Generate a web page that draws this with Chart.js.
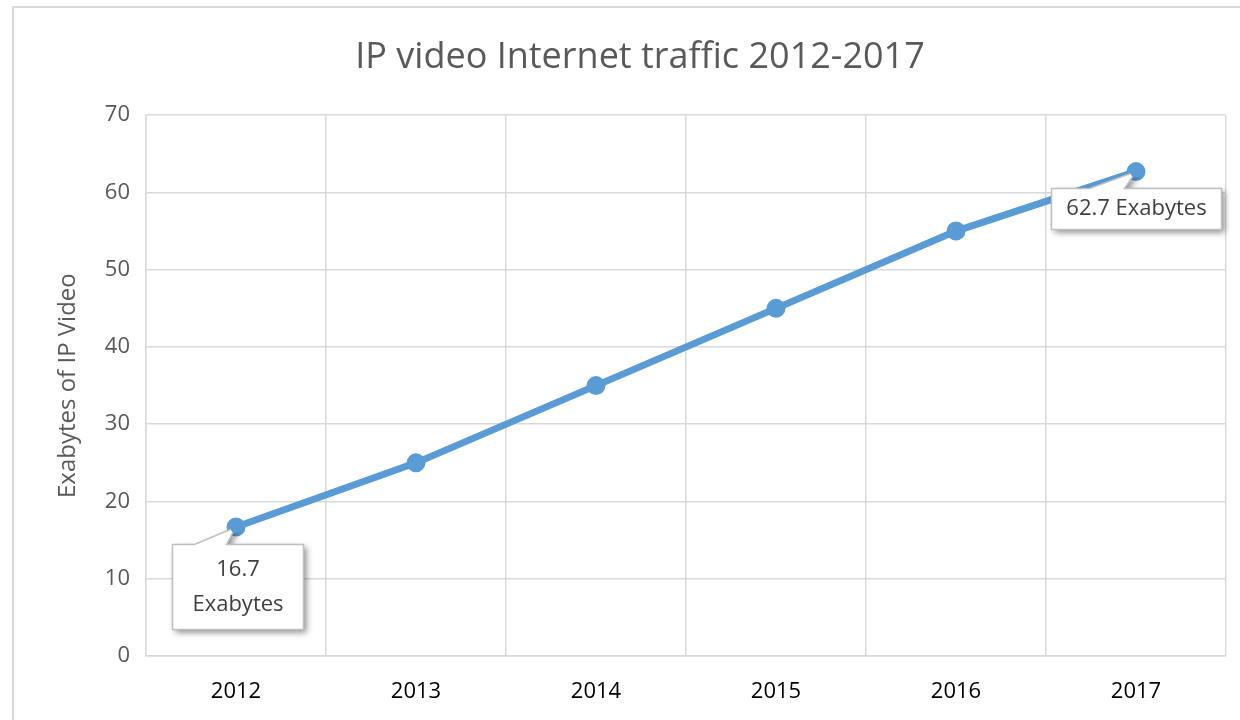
<!DOCTYPE html>
<html>
<head>
<meta charset="utf-8">
<script src="https://cdn.jsdelivr.net/npm/chart.js@4"></script>
<style>
  body { margin: 0; background: #fff; }
  #wrap { width: 1240px; height: 720px; }
</style>
</head>
<body>
<div id="wrap"><canvas id="myChart" width="1240" height="720"></canvas></div>
<script>
var years = ["2012", "2013", "2014", "2015", "2016", "2017"];
var exabytes = [16.7, 25, 35, 45, 55, 62.7];
var yTicks = [0, 10, 20, 30, 40, 50, 60, 70];
var callouts = [
  { index: 0, lines: ["16.7", "Exabytes"] },
  { index: 5, lines: ["62.7 Exabytes"] }
];

// box placement relative to the point; p1/p2 = pointer base, from box left
var boxGeom = {
  0: { dx: -64, dy: 17, w: 131, h: 85, p1: 22, p2: 54 },
  5: { dx: -85, dy: 16, w: 170, h: 41, p1: 38, p2: 73 }
};

var frame = {
  id: 'frame',
  beforeDraw: function(chart) {
    var ctx = chart.ctx;
    ctx.save();
    ctx.fillStyle = '#fff';
    ctx.fillRect(0, 0, chart.width, chart.height);
    ctx.strokeStyle = '#d9d9d9';
    ctx.lineWidth = 2;
    ctx.strokeRect(13, 7, 1240, 740);
    ctx.restore();
  }
};

var labels = {
  id: 'labels',
  afterDatasetsDraw: function(chart) {
    var ctx = chart.ctx;
    var meta = chart.getDatasetMeta(0);
    callouts.forEach(function(c) {
      var pt = meta.data[c.index];
      var g = boxGeom[c.index];
      var x = Math.round(pt.x + g.dx) + 0.5, y = Math.round(pt.y + g.dy) + 0.5;
      ctx.save();
      ctx.shadowColor = 'rgba(0,0,0,0.45)';
      ctx.shadowBlur = 6;
      ctx.shadowOffsetX = 3;
      ctx.shadowOffsetY = 3;
      ctx.fillStyle = '#fff';
      ctx.beginPath();
      ctx.moveTo(x, y);
      ctx.lineTo(x + g.p1, y);
      ctx.lineTo(pt.x, pt.y);
      ctx.lineTo(x + g.p2, y);
      ctx.lineTo(x + g.w, y);
      ctx.lineTo(x + g.w, y + g.h);
      ctx.lineTo(x, y + g.h);
      ctx.closePath();
      ctx.fill();
      ctx.shadowColor = 'transparent';
      ctx.strokeStyle = '#bfbfbf';
      ctx.lineWidth = 1.5;
      ctx.stroke();
      // redraw the marker on top of the pointer tip
      ctx.fillStyle = '#5b9bd5';
      ctx.beginPath();
      ctx.arc(pt.x, pt.y, 6, 0, Math.PI * 2);
      ctx.fill();
      ctx.fillStyle = '#404040';
      ctx.font = '22px "Open Sans", sans-serif';
      ctx.textAlign = 'center';
      ctx.textBaseline = 'middle';
      var n = c.lines.length;
      c.lines.forEach(function(t, i) {
        ctx.fillText(t, x + g.w / 2, y + g.h / 2 + (i - (n - 1) / 2) * 35);
      });
      ctx.restore();
    });
  }
};

var ctx = document.getElementById('myChart').getContext('2d');
var chart = new Chart(ctx, {
  type: 'line',
  data: {
    labels: years,
    datasets: [{
      label: "Exabytes of IP Video",
      data: exabytes,
      borderColor: '#5b9bd5',
      backgroundColor: '#5b9bd5',
      borderWidth: 7,
      pointRadius: 6,
      pointHoverRadius: 6,
      tension: 0
    }]
  },
  options: {
    responsive: false,
    animation: false,
    layout: { padding: { left: 54, right: 14, top: 4, bottom: 10 } },
    plugins: {
      legend: { display: false },
      tooltip: { enabled: false },
      title: {
        display: true,
        text: 'IP video Internet traffic 2012-2017',
        color: '#595959',
        font: { family: '"Open Sans", sans-serif', size: 36, weight: 'normal' },
        padding: { top: 32, bottom: 36 }
      }
    },
    scales: {
      x: {
        offset: true,
        grid: { offset: true, color: '#d9d9d9', lineWidth: 1.5, drawTicks: false },
        border: { color: '#d9d9d9', width: 1.5 },
        ticks: { color: '#000', padding: 23, font: { family: '"Open Sans", sans-serif', size: 22 } },
        afterFit: function(s) { s.height = 54; }
      },
      y: {
        min: 0,
        max: 70,
        afterBuildTicks: function(s) { s.ticks = yTicks.map(function(v) { return { value: v }; }); },
        grid: { color: '#d9d9d9', lineWidth: 1.5, drawTicks: false },
        border: { color: '#d9d9d9', width: 1.5 },
        ticks: { color: '#595959', padding: 16, font: { family: '"Open Sans", sans-serif', size: 22 } },
        title: {
          display: true,
          text: 'Exabytes of IP Video',
          color: '#595959',
          font: { family: '"Open Sans", sans-serif', size: 24 },
          padding: 0
        },
        afterFit: function(s) { s.width = 92; }
      }
    }
  },
  plugins: [frame, labels]
});
</script>
</body>
</html>
